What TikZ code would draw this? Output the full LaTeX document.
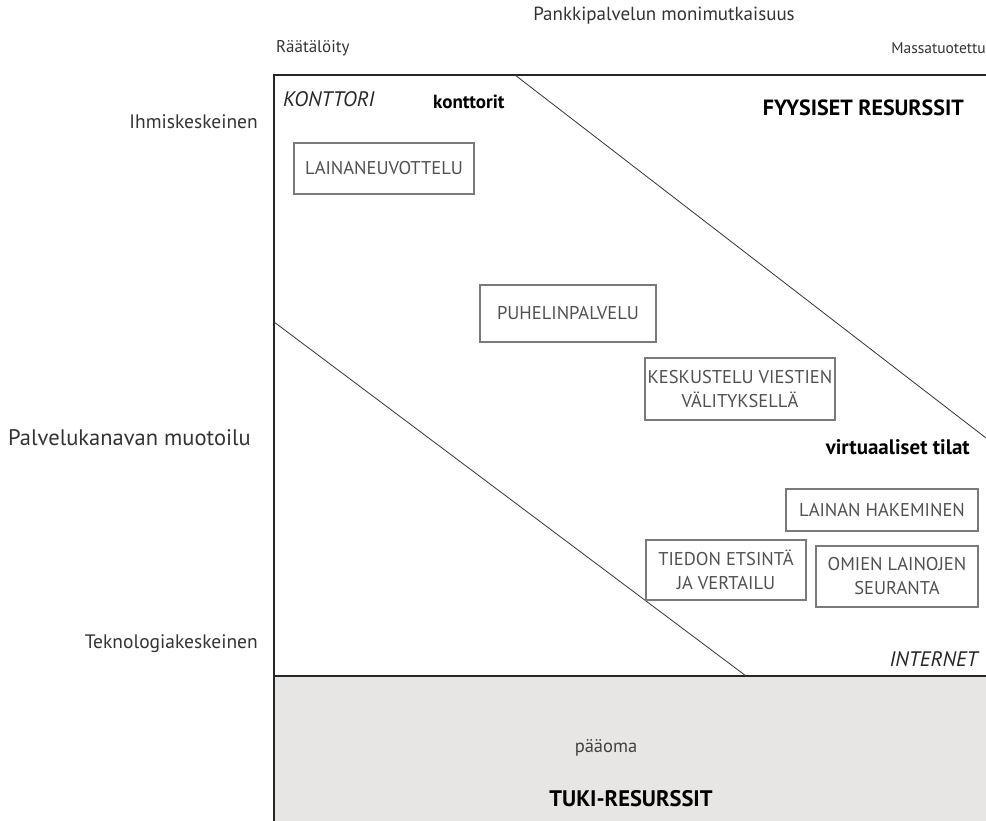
\documentclass[tikz,border=0pt]{standalone}
\usepackage{fontspec}
\setmainfont{PT Sans}
\definecolor{boxgray}{HTML}{7A7A7A}
\definecolor{txtgray}{HTML}{505050}
\definecolor{fillgray}{HTML}{E8E6E4}
\begin{document}
\begin{tikzpicture}[x=1pt,y=-1pt,
  lbl/.style={inner sep=0pt, font=\fontsize{19.5}{22}\selectfont, text=black!80},
  svc/.style={draw=boxgray, line width=1.2pt, inner sep=0pt, text=txtgray, align=center,
    font=\fontsize{18.5}{24}\selectfont},
  bld/.style={inner sep=0pt, font=\fontsize{21}{24}\selectfont\bfseries},
  itl/.style={inner sep=0pt, font=\fontsize{21}{24}\selectfont\itshape, text=black!85},
  frame/.style={line width=2.5pt, black!85},
  diag/.style={line width=0.8pt, black!80}]
\useasboundingbox (0,0) rectangle (986,821);
% grey support area
\fill[fillgray] (274,676) rectangle (986,821);
% frame
\coordinate (TL) at (274,75);
\coordinate (TR) at (986,75);
\coordinate (ML) at (274,676);
\coordinate (MR) at (986,676);
\coordinate (BL) at (274,821);
\draw[frame] (TR) -- (TL) -- (BL);
\draw[frame] (ML) -- (MR);
% diagonals
\coordinate (d1a) at (515,75);
\coordinate (d1b) at (986,438);
\coordinate (d2a) at (274,322);
\coordinate (d2b) at (746,676);
\draw[diag] (d1a) -- (d1b);
\draw[diag] (d2a) -- (d2b);
% top and side labels
\node[lbl, font=\fontsize{19}{21}\selectfont] (title) at (664,16) {Pankkipalvelun monimutkaisuus};
\node[lbl, anchor=west, font=\fontsize{17}{19}\selectfont] (rat) at (276,48) {Räätälöity};
\node[lbl, anchor=east, font=\fontsize{15.5}{18}\selectfont] (mas) at (986,48) {Massatuotettu};
\node[lbl, anchor=east] (ihm) at (258,122) {Ihmiskeskeinen};
\node[lbl, anchor=west, font=\fontsize{22.5}{25}\selectfont] (pal) at (8,438) {Palvelukanavan muotoilu};
\node[lbl, anchor=east] (tek) at (258,644) {Teknologiakeskeinen};
% region labels
\node[itl, anchor=west] (kont) at (283,99) {KONTTORI};
\node[bld, anchor=west, font=\fontsize{19}{21}\selectfont\bfseries] (konttorit) at (433,102) {konttorit};
\node[bld, anchor=east, font=\fontsize{22}{24}\selectfont\bfseries] (fyys) at (964,108) {FYYSISET RESURSSIT};
\node[bld, anchor=east] (virt) at (970,447) {virtuaaliset tilat};
\node[itl, anchor=east] (inet) at (978,659) {INTERNET};
\node[lbl, font=\fontsize{18.5}{20}\selectfont, text=black!75] (paaoma) at (606,748) {pääoma};
\node[bld, font=\fontsize{22.5}{25}\selectfont\bfseries] (tuki) at (631,799) {TUKI-RESURSSIT};
% service boxes
\node[svc, minimum width=180, minimum height=51] (lain) at (384,168.5) {LAINANEUVOTTELU};
\node[svc, minimum width=176, minimum height=57] (puh) at (568,313.5) {PUHELINPALVELU};
\node[svc, minimum width=190, minimum height=62] (kesk) at (740,389) {KESKUSTELU VIESTIEN\\VÄLITYKSELLÄ};
\node[svc, minimum width=192, minimum height=42] (hak) at (882,510) {LAINAN HAKEMINEN};
\node[svc, minimum width=160, minimum height=60] (tied) at (726,570) {TIEDON ETSINTÄ\\JA VERTAILU};
\node[svc, minimum width=162, minimum height=61] (omi) at (897,576.5) {OMIEN LAINOJEN\\SEURANTA};
\end{tikzpicture}
\end{document}
